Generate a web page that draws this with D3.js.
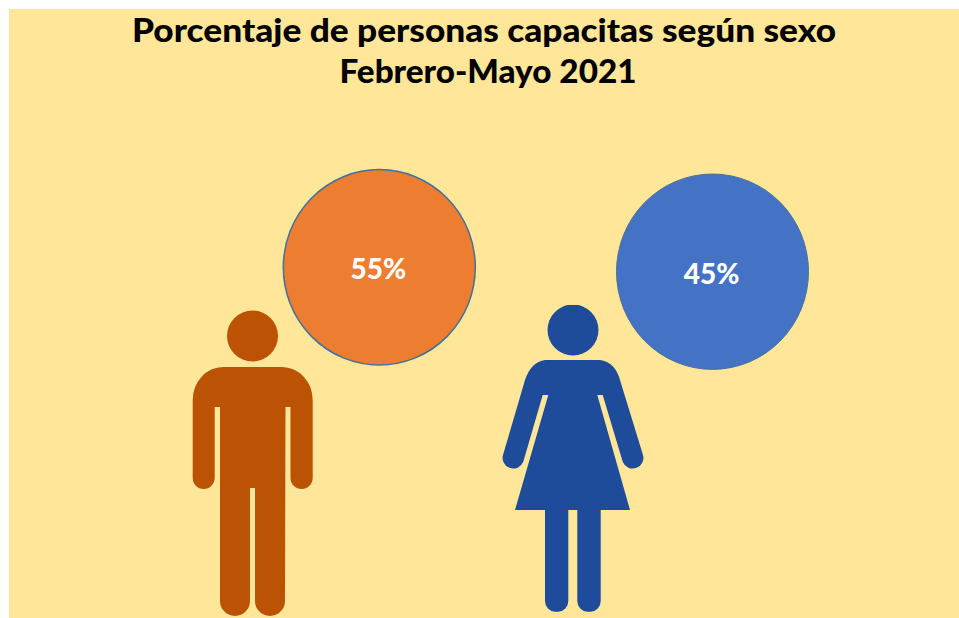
<!DOCTYPE html>
<html>
<head>
<meta charset="utf-8">
<script src="https://cdn.jsdelivr.net/npm/d3@7.9.0/dist/d3.min.js"></script>
<style>
  html, body { margin: 0; padding: 0; background: #fff; }
  svg { display: block; }
</style>
</head>
<body>
<div id="chart"></div>
<script>
const titleLines = ["Porcentaje de personas capacitas según sexo", "Febrero-Mayo 2021"];
const sexes = ["Hombres", "Mujeres"];
const percentages = [55, 45];
const bubbleFills = ["#ed7d31", "#4472c4"];
const figureFills = ["#bc5204", "#1e4c9a"];

const width = 959, height = 618;

const svg = d3.select("#chart").append("svg")
  .attr("width", width).attr("height", height);

// panel background
svg.append("rect")
  .attr("x", 9).attr("y", 9)
  .attr("width", width - 9).attr("height", height - 9)
  .attr("fill", "#ffe699");

// title
svg.selectAll("text.title").data(titleLines)
  .enter().append("text")
  .attr("class", "title")
  .attr("x", (d, i) => i === 0 ? 484 : 488)
  .attr("y", (d, i) => 42 + i * 41)
  .attr("text-anchor", "middle")
  .attr("font-family", "Lato, sans-serif")
  .attr("font-weight", "900")
  .attr("font-size", "32px")
  .attr("textLength", (d, i) => i === 0 ? 704 : 297)
  .attr("lengthAdjust", "spacingAndGlyphs")
  .text(d => d);

// bubbles
const bubbleX = d3.scaleOrdinal().domain(sexes).range([379.3, 712.5]);
const bubbleY = d3.scaleOrdinal().domain(sexes).range([267.3, 271.7]);

svg.selectAll("ellipse.bubble").data(sexes)
  .enter().append("ellipse")
  .attr("class", "bubble")
  .attr("cx", d => bubbleX(d))
  .attr("cy", d => bubbleY(d))
  .attr("rx", 96)
  .attr("ry", 97.7)
  .attr("fill", (d, i) => bubbleFills[i])
  .attr("stroke", (d, i) => i === 0 ? "#41719c" : "#4a7299")
  .attr("stroke-width", (d, i) => i === 0 ? 1.5 : 1);

svg.selectAll("text.pct").data(sexes)
  .enter().append("text")
  .attr("class", "pct")
  .attr("x", d => bubbleX(d) - 1)
  .attr("y", d => bubbleY(d) + 12)
  .attr("text-anchor", "middle")
  .attr("font-family", "Lato, sans-serif")
  .attr("font-weight", "900")
  .attr("font-size", "28px")
  .attr("fill", "#fff")
  .text((d, i) => `${percentages[i]}%`);

// man icon
const man = svg.append("g").attr("fill", figureFills[0]);
man.append("circle").attr("cx", 252.5).attr("cy", 336).attr("r", 25.5);
man.append("path").attr("d", `
  M 223 367 H 282
  A 30.7 33 0 0 1 312.7 400
  V 478 A 11 11 0 0 1 290.5 478
  V 407 H 285.5
  L 285 601 A 15 15 0 0 1 255 601
  V 488 H 250
  V 601 A 15 15 0 0 1 220 601
  V 407 H 214.7
  L 214.7 478 A 11 11 0 0 1 192.7 478
  V 400 A 30.3 33 0 0 1 223 367 Z`);

// woman icon
const woman = svg.append("g").attr("fill", figureFills[1]);
woman.append("clipPath").attr("id", "headClip")
  .append("rect").attr("x", 540).attr("y", 305).attr("width", 70).attr("height", 60);
woman.append("circle").attr("cx", 573).attr("cy", 330).attr("r", 25.5)
  .attr("clip-path", "url(#headClip)");
woman.append("path").attr("d", `
  M 545 360 H 600
  Q 615 362 620 380
  L 642.7 454
  A 10.5 10.5 0 0 1 622.7 461.7
  L 602.7 395 H 597.3
  L 630 510 H 600.7
  V 601 A 10 10.7 0 0 1 590.7 611.7
  H 587.3 A 10 10.7 0 0 1 577.3 601
  V 510 H 568.3
  V 601 A 10 10.7 0 0 1 558.3 611.7
  H 555 A 10 10.7 0 0 1 545 601
  V 510 H 515
  L 548.3 395 H 542.7
  L 523.3 461.7
  A 10.5 10.5 0 0 1 503.3 454
  L 525 380
  Q 531 362 545 360 Z`);
</script>
</body>
</html>
